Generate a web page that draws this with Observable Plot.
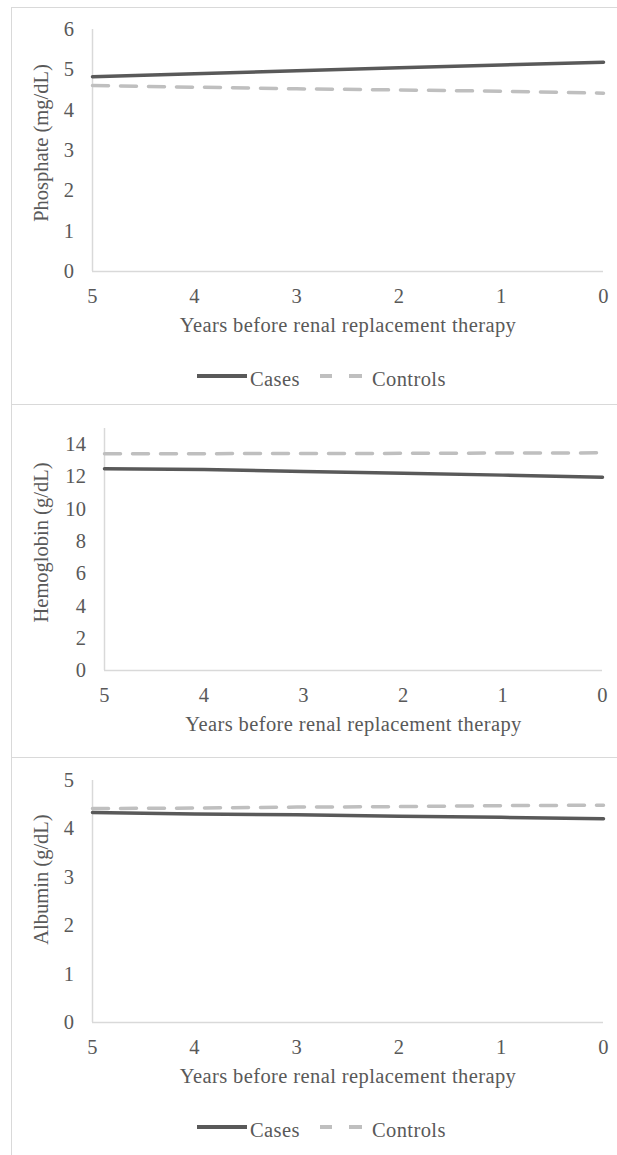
<!DOCTYPE html>
<html><head><meta charset="utf-8">
<script src="https://cdn.jsdelivr.net/npm/d3@7"></script>
<script src="https://cdn.jsdelivr.net/npm/@observablehq/plot@0.6"></script>
<style>
body{margin:0;background:#fff;}
#root{position:relative;width:617px;height:1155px;overflow:hidden;font-family:"Liberation Serif","Times New Roman",serif;color:#595959;}
.frame{position:absolute;left:11px;width:640px;border:1.5px solid #d9d9d9;box-sizing:border-box;}
.chart{position:absolute;left:0;}
.leg{position:absolute;font-family:"Liberation Serif","Times New Roman",serif;font-size:20.5px;line-height:24px;letter-spacing:0.4px;white-space:nowrap;color:#595959;}
.sw{position:absolute;height:3.5px;}
</style></head><body><div id="root"></div>
<script>
// ---- data ----
const years = [5, 4, 3, 2, 1, 0];
const seriesNames = ["Cases", "Controls"];
const xTitle = "Years before renal replacement therapy";

const phosCases    = [4.83, 4.90, 4.98, 5.05, 5.12, 5.19];
const phosControls = [4.61, 4.57, 4.53, 4.50, 4.47, 4.42];
const phosTicks    = [0, 1, 2, 3, 4, 5, 6];

const hgbCases     = [12.50, 12.46, 12.34, 12.23, 12.11, 11.98];
const hgbControls  = [13.43, 13.44, 13.45, 13.46, 13.48, 13.49];
const hgbTicks     = [0, 2, 4, 6, 8, 10, 12, 14];

const albCases     = [4.34, 4.31, 4.29, 4.26, 4.24, 4.21];
const albControls  = [4.42, 4.43, 4.45, 4.46, 4.48, 4.49];
const albTicks     = [0, 1, 2, 3, 4, 5];

const yLabels = ["Phosphate (mg/dL)", "Hemoglobin (g/dL)", "Albumin (g/dL)"];
const yMax = [6, 15, 5];

// ---- layout ----
const FONT = '"Liberation Serif","Times New Roman",serif';
const FS = 20.5;
const panels = [
  {label: yLabels[0], cases: phosCases, controls: phosControls, ticks: phosTicks, max: yMax[0],
   frameTop: 7, frameH: 398, svgTop: 7, svgH: 397, ml: 92, mr: 14, labelDy: -7.5, legend: true},
  {label: yLabels[1], cases: hgbCases, controls: hgbControls, ticks: hgbTicks, max: yMax[1],
   frameTop: 404, frameH: 354, svgTop: 406, svgH: 351, ml: 104, mr: 15, labelDy: -7, legend: false},
  {label: yLabels[2], cases: albCases, controls: albControls, ticks: albTicks, max: yMax[2],
   frameTop: 757, frameH: 430, svgTop: 758, svgH: 397, ml: 92, mr: 14, labelDy: -22, legend: true}
];

const root = document.getElementById("root");
const txt = "#595959";

for (const p of panels) {
  const frame = document.createElement("div");
  frame.className = "frame";
  frame.style.top = p.frameTop + "px";
  frame.style.height = p.frameH + "px";
  root.appendChild(frame);

  const rows = [];
  years.forEach((yr, i) => {
    rows.push({year: yr, value: p.cases[i], series: seriesNames[0]});
    rows.push({year: yr, value: p.controls[i], series: seriesNames[1]});
  });
  const marginTop = 22;
  const marginBottom = p.svgH - marginTop - 242;
  const font = {fontFamily: FONT, fontSize: FS, fill: txt};

  const chart = Plot.plot({
    width: 617,
    height: p.svgH,
    marginLeft: p.ml,
    marginRight: p.mr,
    marginTop,
    marginBottom,
    style: {background: "transparent", overflow: "visible", fontFamily: FONT, fontSize: FS + "px", color: txt, letterSpacing: "0.4px"},
    x: {domain: [5, 0], axis: null},
    y: {domain: [0, p.max], axis: null},
    marks: [
      Plot.ruleY([0], {stroke: "#d9d9d9", strokeWidth: 1.5}),
      Plot.ruleX([5], {stroke: "#d9d9d9", strokeWidth: 1.5}),
      Plot.line(rows.filter(d => d.series === "Controls"), {x: "year", y: "value", stroke: "#bfbfbf", strokeWidth: 3.5, strokeDasharray: "16,12"}),
      Plot.line(rows.filter(d => d.series === "Cases"), {x: "year", y: "value", stroke: "#595959", strokeWidth: 3.5}),
      Plot.axisX({ticks: years, tickSize: 0, tickPadding: 17, tickFormat: d => String(d), label: null, ...font}),
      Plot.axisY({ticks: p.ticks, tickSize: 0, tickPadding: 18, tickFormat: d => String(d), label: null, ...font}),
      Plot.text([xTitle], {frameAnchor: "bottom", text: d => d, dy: 54, lineAnchor: "middle", textAnchor: "middle", ...font}),
      Plot.text([p.label], {frameAnchor: "left", text: d => d, rotate: -90, dx: 41 - p.ml, dy: p.labelDy, lineAnchor: "middle", textAnchor: "middle", ...font})
    ]
  });
  // keep the rotated axis title at normal spacing
  d3.select(chart).selectAll("text").filter(function() {
    const t = this.getAttribute("transform") || "";
    return t.includes("rotate");
  }).style("letter-spacing", "0px");
  chart.classList.add("chart");
  chart.style.top = p.svgTop + "px";
  root.appendChild(chart);

  if (p.legend) {
    const ly = p.svgTop + marginTop + 242 + 105; // legend line y
    const mk = (cls, css) => { const e = document.createElement("div"); e.className = cls; Object.assign(e.style, css); root.appendChild(e); return e; };
    mk("sw", {left: "197px", width: "50px", top: (ly - 1.75) + "px", background: "#595959"});
    mk("leg", {left: "250px", top: (ly - 9.5) + "px"}).textContent = seriesNames[0];
    mk("sw", {left: "320px", width: "12px", top: (ly - 1.75) + "px", background: "#bfbfbf"});
    mk("sw", {left: "349px", width: "13px", top: (ly - 1.75) + "px", background: "#bfbfbf"});
    mk("leg", {left: "372px", top: (ly - 9.5) + "px"}).textContent = seriesNames[1];
  }
}
</script></body></html>
